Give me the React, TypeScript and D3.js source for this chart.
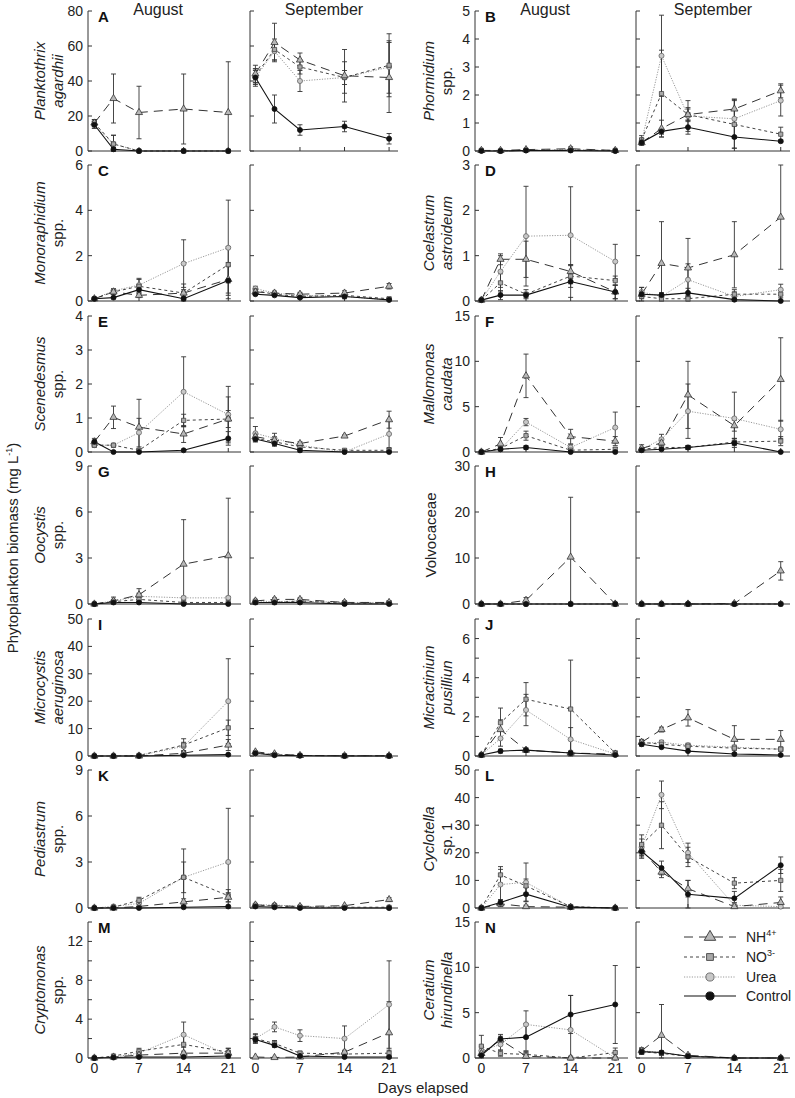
import * as d3 from "d3";

const days = [0, 3, 7, 14, 21];
const treatments = ["NH4", "NO3", "Urea", "Control"];
const months = ["August", "September"];
const dayLabels = [0, 7, 14, 21];

// every block: [August, September], each month rows = [NH4, NO3, Urea, Control] x days
const planktothrixMean = [
  [[16, 30, 22, 24, 22], [16, 4, 0, 0, 0], [15, 4, 0, 0, 0], [15, 1, 0, 0, 0]],
  [[44, 62, 52, 43, 42], [43, 58, 48, 42, 49], [42, 57, 40, 42, 48], [42, 24, 12, 14, 7]],
];
const planktothrixErr = [
  [[2, 14, 15, 20, 29], [2, 5, 0.5, 0.5, 0.5], [2, 5, 0.5, 0.5, 0.5], [2, 1, 0.5, 0.5, 0.5]],
  [[5, 11, 4, 15, 20], [4, 6, 4, 9, 18], [4, 5, 6, 4, 15], [5, 8, 3, 3, 3]],
];

const phormidiumMean = [
  [[0.02, 0.02, 0.05, 0.08, 0.02], [0.02, 0, 0.03, 0.03, 0.02], [0.02, 0, 0.02, 0.05, 0], [0, 0, 0.02, 0.02, 0]],
  [[0.3, 0.8, 1.3, 1.5, 2.15], [0.4, 2.05, 1.3, 0.95, 0.6], [0.35, 3.4, 1.25, 1.15, 1.8], [0.3, 0.7, 0.85, 0.5, 0.35]],
];
const phormidiumErr = [
  [[0.03, 0.03, 0.03, 0.07, 0.03], [0.03, 0.03, 0.03, 0.03, 0.03], [0.03, 0.03, 0.03, 0.03, 0.03], [0.03, 0.03, 0.03, 0.03, 0.03]],
  [[0.1, 0.3, 0.2, 0.35, 0.25], [0.15, 1.55, 0.25, 0.85, 0.25], [0.1, 1.45, 0.55, 0.7, 0.55], [0.05, 0.1, 0.25, 0.4, 0.05]],
];

const monoraphidiumMean = [
  [[0.1, 0.4, 0.25, 0.35, 0.95], [0.1, 0.4, 0.65, 0.35, 1.6], [0.1, 0.45, 0.7, 1.65, 2.35], [0.1, 0.15, 0.5, 0.1, 0.9]],
  [[0.4, 0.35, 0.3, 0.35, 0.65], [0.45, 0.3, 0.2, 0.25, 0.1], [0.55, 0.35, 0.25, 0.2, 0.05], [0.3, 0.25, 0.15, 0.2, 0.05]],
];
const monoraphidiumErr = [
  [[0.05, 0.1, 0.1, 0.15, 0.6], [0.05, 0.1, 0.3, 0.4, 0.8], [0.05, 0.1, 0.3, 1.05, 2.1], [0.05, 0.05, 0.2, 0.05, 0.8]],
  [[0.1, 0.08, 0.08, 0.1, 0.12], [0.1, 0.08, 0.08, 0.1, 0.05], [0.1, 0.08, 0.08, 0.1, 0.05], [0.05, 0.05, 0.05, 0.05, 0.03]],
];

const coelastrumMean = [
  [[0.02, 0.92, 0.92, 0.65, 0.2], [0.02, 0.4, 0.15, 0.55, 0.45], [0.02, 0.65, 1.43, 1.45, 0.87], [0.02, 0.13, 0.13, 0.43, 0.2]],
  [[0.15, 0.83, 0.73, 1.02, 1.85], [0.1, 0.05, 0.05, 0.15, 0.15], [0.2, 0.1, 0.47, 0.1, 0.25], [0.15, 0.13, 0.18, 0.03, 0]],
];
const coelastrumErr = [
  [[0.02, 0.12, 0.4, 0.15, 0.15], [0.02, 0.2, 0.1, 0.25, 0.1], [0.02, 0.35, 1.1, 1.07, 0.38], [0.02, 0.1, 0.05, 0.35, 0.15]],
  [[0.15, 0.92, 0.65, 0.73, 1.15], [0.05, 0.03, 0.05, 0.1, 0.08], [0.1, 0.08, 0.35, 0.1, 0.12], [0.05, 0.05, 0.1, 0.02, 0.01]],
];

const scenedesmusMean = [
  [[0.3, 1.02, 0.73, 0.53, 0.97], [0.2, 0.2, 0.05, 0.93, 0.97], [0.2, 0.2, 0.57, 1.77, 1.1], [0.3, 0, 0, 0.05, 0.4]],
  [[0.45, 0.35, 0.25, 0.47, 0.95], [0.4, 0.3, 0.15, 0.05, 0.05], [0.55, 0.4, 0.2, 0, 0.53], [0.38, 0.25, 0.05, 0, 0]],
];
const scenedesmusErr = [
  [[0.1, 0.33, 0.82, 0.25, 0.65], [0.05, 0.05, 0.05, 0.18, 0.25], [0.05, 0.05, 0.42, 1.03, 0.83], [0.05, 0.02, 0.02, 0.02, 0.2]],
  [[0.1, 0.1, 0.05, 0.03, 0.25], [0.1, 0.1, 0.05, 0.03, 0.05], [0.2, 0.15, 0.05, 0.02, 0.4], [0.08, 0.08, 0.05, 0.02, 0.02]],
];

const mallomonasMean = [
  [[0, 0.9, 8.4, 1.7, 1.2], [0, 0.4, 1.8, 0.2, 0.3], [0, 0.3, 3.3, 0.5, 2.7], [0, 0.3, 0.5, 0, 0]],
  [[0.4, 1.0, 6.3, 2.9, 8.0], [0.3, 0.5, 0.5, 1.1, 1.2], [0.3, 1.4, 4.5, 3.7, 2.5], [0.2, 0.3, 0.5, 1.0, 0]],
];
const mallomonasErr = [
  [[0.05, 0.7, 2.4, 0.8, 0.5], [0.05, 0.2, 0.5, 0.2, 0.2], [0.05, 0.2, 0.4, 0.3, 1.7], [0.05, 0.1, 0.2, 0.05, 0.05]],
  [[0.4, 0.5, 3.7, 0.6, 4.6], [0.2, 0.3, 0.2, 0.4, 0.5], [0.2, 0.55, 3.0, 2.9, 1.0], [0.1, 0.1, 0.2, 0.5, 0.1]],
];

const oocystisMean = [
  [[0, 0.2, 0.6, 2.6, 3.15], [0, 0.15, 0.3, 0.1, 0.1], [0, 0.2, 0.5, 0.4, 0.4], [0, 0.1, 0.1, 0, 0]],
  [[0.2, 0.3, 0.3, 0.1, 0.1], [0.1, 0.1, 0.2, 0.05, 0.05], [0.2, 0.15, 0.2, 0.1, 0.1], [0.1, 0.1, 0.1, 0, 0]],
];
const oocystisErr = [
  [[0.05, 0.25, 0.4, 2.9, 3.75], [0.05, 0.1, 0.15, 0.05, 0.05], [0.05, 0.1, 0.2, 0.1, 0.1], [0.05, 0.05, 0.05, 0.02, 0.02]],
  [[0.1, 0.1, 0.1, 0.1, 0.1], [0.1, 0.1, 0.1, 0.1, 0.1], [0.1, 0.1, 0.1, 0.1, 0.1], [0.1, 0.1, 0.1, 0.1, 0.1]],
];

const volvocaceaeMean = [
  [[0, 0, 0.8, 10.2, 0], [0, 0, 0, 0, 0], [0, 0, 0, 0, 0], [0, 0, 0, 0, 0]],
  [[0, 0, 0, 0.1, 7.2], [0, 0, 0, 0, 0], [0, 0, 0, 0, 0], [0, 0, 0, 0, 0]],
];
const volvocaceaeErr = [
  [[0.1, 0.2, 0.6, 13, 0.2], [0.1, 0.1, 0.1, 0.1, 0.1], [0.1, 0.1, 0.1, 0.1, 0.1], [0.1, 0.1, 0.1, 0.1, 0.1]],
  [[0.1, 0.1, 0.1, 0.1, 2.0], [0.1, 0.1, 0.1, 0.1, 0.1], [0.1, 0.1, 0.1, 0.1, 0.1], [0.1, 0.1, 0.1, 0.1, 0.1]],
];

const microcystisMean = [
  [[0, 0, 0, 1, 4], [0, 0, 0.2, 4, 10.3], [0, 0, 0.2, 3.5, 20], [0, 0, 0, 0.3, 0.5]],
  [[1.5, 0.8, 0.2, 0.1, 0.1], [1.2, 0.5, 0.2, 0.1, 0.1], [1.0, 0.5, 0.2, 0.1, 0.1], [1.0, 0.3, 0.1, 0, 0]],
];
const microcystisErr = [
  [[0.1, 0.1, 0.1, 0.5, 2], [0.1, 0.1, 0.1, 2.3, 2.8], [0.1, 0.1, 0.1, 1.5, 15.5], [0.1, 0.1, 0.1, 0.2, 0.3]],
  [[0.3, 0.3, 0.3, 0.3, 0.3], [0.3, 0.3, 0.3, 0.3, 0.3], [0.3, 0.3, 0.3, 0.3, 0.3], [0.3, 0.3, 0.3, 0.3, 0.3]],
];

const micractiniumMean = [
  [[0.05, 1.35, 0.3, 0.15, 0.1], [0.05, 1.7, 2.9, 2.4, 0.15], [0.05, 0.9, 2.35, 0.85, 0.1], [0.05, 0.25, 0.3, 0.15, 0.05]],
  [[0.7, 1.35, 1.95, 0.85, 0.85], [0.7, 0.6, 0.5, 0.4, 0.35], [0.65, 0.7, 0.55, 0.45, 0.35], [0.6, 0.45, 0.25, 0.1, 0.05]],
];
const micractiniumErr = [
  [[0.03, 0.5, 0.1, 0.1, 0.05], [0.03, 0.75, 0.85, 2.5, 0.1], [0.03, 0.4, 0.8, 0.6, 0.05], [0.03, 0.1, 0.1, 0.05, 0.03]],
  [[0.15, 0.12, 0.42, 0.7, 0.45], [0.1, 0.1, 0.1, 0.1, 0.1], [0.1, 0.1, 0.1, 0.1, 0.1], [0.1, 0.05, 0.05, 0.05, 0.03]],
];

const pediastrumMean = [
  [[0, 0, 0.1, 0.4, 0.7], [0, 0.05, 0.5, 2.0, 0.8], [0, 0.1, 0.3, 2.0, 3.0], [0, 0, 0, 0.05, 0.1]],
  [[0.2, 0.15, 0.1, 0.15, 0.55], [0.15, 0.15, 0.05, 0.05, 0.05], [0.2, 0.2, 0.1, 0.05, 0], [0.1, 0.05, 0, 0, 0]],
];
const pediastrumErr = [
  [[0.02, 0.02, 0.05, 0.2, 0.3], [0.02, 0.05, 0.2, 1.0, 0.4], [0.02, 0.05, 0.2, 1.85, 3.5], [0.02, 0.02, 0.02, 0.03, 0.05]],
  [[0.1, 0.05, 0.05, 0.05, 0.12], [0.05, 0.05, 0.05, 0.05, 0.05], [0.05, 0.05, 0.05, 0.05, 0.05], [0.05, 0.05, 0.05, 0.05, 0.05]],
];

const cyclotellaMean = [
  [[0, 1.5, 0.5, 0.3, 0], [0, 12, 8, 0.5, 0], [0, 8.5, 9.3, 0.3, 0], [0, 2, 5, 0.3, 0]],
  [[21, 13, 7, 0.5, 2], [23, 30, 18.5, 9, 10], [22, 41, 20, 1, 0.5], [20.5, 14.5, 5, 3.5, 15.5]],
];
const cyclotellaErr = [
  [[0.3, 1, 0.5, 0.3, 0.3], [0.3, 3, 2.5, 0.5, 0.3], [0.3, 5.5, 7, 0.5, 0.3], [0.3, 1, 2.5, 0.3, 0.3]],
  [[2.5, 2, 3, 0.5, 2], [3.5, 8.5, 3.5, 2, 4], [3, 5, 3.5, 1, 0.5], [2.5, 2.5, 5, 2.5, 3]],
];

const cryptomonasMean = [
  [[0, 0.1, 0.3, 0.5, 0.5], [0, 0.2, 0.7, 1.4, 0.6], [0, 0.1, 0.5, 2.4, 0.3], [0, 0.05, 0.1, 0.1, 0.2]],
  [[0.1, 0.05, 0.1, 0.6, 2.6], [2.0, 1.5, 0.5, 0.4, 0.5], [2.0, 3.2, 2.3, 2.0, 5.5], [1.9, 1.3, 0.2, 0.1, 0.1]],
];
const cryptomonasErr = [
  [[0.05, 0.05, 0.1, 0.2, 0.2], [0.05, 0.1, 0.3, 0.9, 0.4], [0.05, 0.05, 0.2, 1.3, 0.7], [0.05, 0.05, 0.05, 0.05, 0.1]],
  [[0.1, 0.05, 0.1, 0.2, 3.2], [0.5, 0.3, 0.2, 0.2, 0.3], [0.4, 0.5, 0.6, 1.3, 4.5], [0.2, 0.2, 0.1, 0.1, 0.1]],
];

const ceratiumMean = [
  [[0.5, 2.0, 0.2, 0, 0], [1.3, 0.5, 0.4, 0, 0.6], [0.8, 1.5, 3.7, 3.1, 0], [0.3, 2.1, 2.3, 4.8, 5.9]],
  [[0.8, 2.5, 0.3, 0, 0], [0.7, 0.5, 0.2, 0, 0], [0.8, 0.6, 0.2, 0, 0], [0.7, 0.6, 0.2, 0, 0]],
];
const ceratiumErr = [
  [[0.3, 0.4, 0.2, 0.05, 0.05], [1.2, 0.3, 0.3, 0.05, 0.5], [0.5, 0.6, 1.5, 3.8, 0.1], [0.3, 0.5, 1.5, 2.1, 4.3]],
  [[0.3, 3.4, 0.2, 0.05, 0.05], [0.3, 0.2, 0.1, 0.05, 0.05], [0.3, 0.2, 0.1, 0.05, 0.05], [0.3, 0.2, 0.1, 0.05, 0.05]],
];

type Panel = {
  letter: string;
  names: [string, boolean][];
  ymax: number;
  ticks: number[];
  labels: number[];
  mean: number[][][];
  err: number[][][];
};

const panels: Panel[] = [
  { letter: "A", names: [["Planktothrix", true], ["agardhii", true]], ymax: 80, ticks: [0, 20, 40, 60, 80], labels: [0, 20, 40, 60, 80], mean: planktothrixMean, err: planktothrixErr },
  { letter: "B", names: [["Phormidium", true], ["spp.", false]], ymax: 5, ticks: [0, 1, 2, 3, 4, 5], labels: [0, 1, 2, 3, 4, 5], mean: phormidiumMean, err: phormidiumErr },
  { letter: "C", names: [["Monoraphidium", true], ["spp.", false]], ymax: 6, ticks: [0, 2, 4, 6], labels: [0, 2, 4, 6], mean: monoraphidiumMean, err: monoraphidiumErr },
  { letter: "D", names: [["Coelastrum", true], ["astroideum", true]], ymax: 3, ticks: [0, 1, 2, 3], labels: [0, 1, 2, 3], mean: coelastrumMean, err: coelastrumErr },
  { letter: "E", names: [["Scenedesmus", true], ["spp.", false]], ymax: 4, ticks: [0, 1, 2, 3, 4], labels: [0, 1, 2, 3, 4], mean: scenedesmusMean, err: scenedesmusErr },
  { letter: "F", names: [["Mallomonas", true], ["caudata", true]], ymax: 15, ticks: [0, 5, 10, 15], labels: [0, 5, 10, 15], mean: mallomonasMean, err: mallomonasErr },
  { letter: "G", names: [["Oocystis", true], ["spp.", false]], ymax: 9, ticks: [0, 3, 6, 9], labels: [0, 3, 6, 9], mean: oocystisMean, err: oocystisErr },
  { letter: "H", names: [["Volvocaceae", false]], ymax: 30, ticks: [0, 10, 20, 30], labels: [0, 10, 20, 30], mean: volvocaceaeMean, err: volvocaceaeErr },
  { letter: "I", names: [["Microcystis", true], ["aeruginosa", true]], ymax: 50, ticks: [0, 10, 20, 30, 40, 50], labels: [0, 10, 20, 30, 40, 50], mean: microcystisMean, err: microcystisErr },
  { letter: "J", names: [["Micractinium", true], ["pusilliun", true]], ymax: 7, ticks: [0, 1, 2, 3, 4, 5, 6, 7], labels: [0, 2, 4, 6], mean: micractiniumMean, err: micractiniumErr },
  { letter: "K", names: [["Pediastrum", true], ["spp.", false]], ymax: 9, ticks: [0, 3, 6, 9], labels: [0, 3, 6, 9], mean: pediastrumMean, err: pediastrumErr },
  { letter: "L", names: [["Cyclotella", true], ["sp. 1", false]], ymax: 50, ticks: [0, 10, 20, 30, 40, 50], labels: [0, 10, 20, 30, 40, 50], mean: cyclotellaMean, err: cyclotellaErr },
  { letter: "M", names: [["Cryptomonas", true], ["spp.", false]], ymax: 14, ticks: [0, 2, 4, 6, 8, 10, 12, 14], labels: [0, 4, 8, 12], mean: cryptomonasMean, err: cryptomonasErr },
  { letter: "N", names: [["Ceratium", true], ["hirundinella", true]], ymax: 15, ticks: [0, 5, 10, 15], labels: [0, 5, 10, 15], mean: ceratiumMean, err: ceratiumErr },
];

const FONT = "'Liberation Sans', Arial, Helvetica, sans-serif";
const W = 795;
const H = 1098;
const rowTop = [11, 165, 316, 466, 619, 770, 922];
const rowBottom = [151, 301, 452, 604, 756, 908, 1058];
const cols = [
  { aug: [88, 241], sep: [250, 398], labelRight: 83, nameX: [40, 58] },
  { aug: [475, 628], sep: [636, 790], labelRight: 470, nameX: [429, 447] },
];
const augDomain = [-1, 23];
const sepDomain = [-0.85, 22.4];

const styles: Record<string, any> = {
  NH4: { line: "#333", dash: "9,6", width: 1, fill: "#b8b8b8", stroke: "#333", symbol: d3.symbolTriangle, size: 22 },
  NO3: { line: "#444", dash: "3,3", width: 1, fill: "#a8a8a8", stroke: "#444", symbol: d3.symbolSquare, size: 18 },
  Urea: { line: "#9a9a9a", dash: "1.2,1.4", width: 1, fill: "#c8c8c8", stroke: "#666", symbol: d3.symbolCircle, size: 20 },
  Control: { line: "#111", dash: null, width: 1.1, fill: "#111", stroke: "#111", symbol: d3.symbolCircle, size: 20 },
};
const drawOrder = [2, 1, 0, 3];

function SubPanel({ p, row, col, mi }: { p: Panel; row: number; col: number; mi: number }) {
  const c = cols[col];
  const range = mi === 0 ? c.aug : c.sep;
  const x = d3.scaleLinear().domain(mi === 0 ? augDomain : sepDomain).range(range);
  const y = d3.scaleLinear().domain([0, p.ymax]).range([rowBottom[row], rowTop[row]]);
  const clampV = (v: number) => Math.max(0, Math.min(p.ymax, v));
  const means = p.mean[mi];
  const errs = p.err[mi];
  const bottom = rowBottom[row];
  const top = rowTop[row];

  return (
    <g>
      {/* axes */}
      <line x1={range[0]} x2={range[0]} y1={top} y2={bottom} stroke="#333" strokeWidth={1} />
      <line x1={range[0]} x2={range[1]} y1={bottom} y2={bottom} stroke="#333" strokeWidth={1} />
      {p.ticks.map((t) => (
        <line key={"yt" + t} x1={range[0]} x2={range[0] + 4} y1={y(t)} y2={y(t)} stroke="#333" />
      ))}
      {dayLabels.slice(1).map((d) => (
        <line key={"xt" + d} x1={x(d)} x2={x(d)} y1={bottom} y2={bottom - 4} stroke="#333" />
      ))}
      {mi === 0 &&
        p.labels.map((t) => (
          <text key={"yl" + t} x={c.labelRight} y={y(t)} dy="0.36em" textAnchor="end" fontSize={14} fill="#222">
            {t}
          </text>
        ))}
      {row === 6 &&
        dayLabels.map((d) => (
          <text key={"xl" + d} x={x(d)} y={bottom + 15} textAnchor="middle" fontSize={14} fill="#222">
            {d}
          </text>
        ))}
      {/* error bars */}
      {drawOrder.map((si) =>
        days.map((d, di) => {
          const m = means[si][di];
          const e = errs[si][di];
          const y0 = y(clampV(m - e));
          const y1 = y(clampV(m + e));
          if (Math.abs(y0 - y1) < 2) return null;
          const xx = x(d);
          return (
            <g key={`e${si}-${di}`} stroke="#333" strokeWidth={0.9}>
              <line x1={xx} x2={xx} y1={y0} y2={y1} />
              <line x1={xx - 2.5} x2={xx + 2.5} y1={y0} y2={y0} />
              <line x1={xx - 2.5} x2={xx + 2.5} y1={y1} y2={y1} />
            </g>
          );
        })
      )}
      {/* lines */}
      {drawOrder.map((si) => {
        const s = styles[treatments[si]];
        const line = d3
          .line<number>()
          .x((_, i) => x(days[i]))
          .y((v) => y(clampV(v)));
        return (
          <path
            key={"l" + si}
            d={line(means[si]) || ""}
            fill="none"
            stroke={s.line}
            strokeWidth={s.width}
            strokeDasharray={s.dash || undefined}
          />
        );
      })}
      {/* markers */}
      {drawOrder.map((si) => {
        const s = styles[treatments[si]];
        const sym = d3.symbol(s.symbol, s.size)();
        return means[si].map((v, di) => (
          <path
            key={`m${si}-${di}`}
            d={sym || ""}
            transform={`translate(${x(days[di])},${y(clampV(v))})`}
            fill={s.fill}
            stroke={s.stroke}
            strokeWidth={0.8}
          />
        ));
      })}
    </g>
  );
}

function PanelBlock({ p, i }: { p: Panel; i: number }) {
  const row = Math.floor(i / 2);
  const col = i % 2;
  const c = cols[col];
  const midY = (rowTop[row] + rowBottom[row]) / 2;
  const nameX = p.names.length === 1 ? [c.nameX[0] + 2] : c.nameX;
  return (
    <g>
      {months.map((m, mi) => (
        <SubPanel key={m} p={p} row={row} col={col} mi={mi} />
      ))}
      <text x={c.aug[0] + 10} y={rowTop[row] + 11} fontSize={15} fontWeight="bold" fill="#111">
        {p.letter}
      </text>
      {p.names.map(([name, italic], k) => (
        <text
          key={name}
          transform={`translate(${nameX[k]},${midY}) rotate(-90)`}
          dy="0.35em"
          textAnchor="middle"
          fontSize={15}
          fontStyle={italic ? "italic" : "normal"}
          fill="#222"
        >
          {name}
        </text>
      ))}
      {row === 0 &&
        months.map((m, mi) => {
          const range = mi === 0 ? c.aug : c.sep;
          const x = d3.scaleLinear().domain(mi === 0 ? augDomain : sepDomain).range(range);
          const cx = mi === 0 ? x(10) : (range[0] + range[1]) / 2;
          return (
            <text key={"t" + m} x={cx} y={15} textAnchor="middle" fontSize={16} fill="#222">
              {m}
            </text>
          );
        })}
    </g>
  );
}

function Legend() {
  const rows = [
    { key: "NH4", label: "NH", sup: "4+", y: 937 },
    { key: "NO3", label: "NO", sup: "3-", y: 957 },
    { key: "Urea", label: "Urea", sup: "", y: 977 },
    { key: "Control", label: "Control", sup: "", y: 996 },
  ];
  return (
    <g>
      {rows.map((r) => {
        const s = styles[r.key];
        const sym = d3.symbol(s.symbol, s.size * 2.6)();
        return (
          <g key={r.key}>
            <line x1={684} x2={736} y1={r.y} y2={r.y} stroke={s.line} strokeWidth={s.width} strokeDasharray={s.dash || undefined} />
            <path d={sym || ""} transform={`translate(710,${r.y})`} fill={s.fill} stroke={s.stroke} strokeWidth={0.9} />
            <text x={746} y={r.y} dy="0.36em" fontSize={14} fill="#222">
              {r.label}
              {r.sup && (
                <tspan fontSize={9} dy={-6}>
                  {r.sup}
                </tspan>
              )}
            </text>
          </g>
        );
      })}
    </g>
  );
}

export default function App() {
  return (
    <svg
      width={W}
      height={H}
      viewBox={`0 0 ${W} ${H}`}
      style={{ position: "absolute", left: 0, top: 0, background: "#fff" }}
      fontFamily={FONT}
    >
      <rect width={W} height={H} fill="#fff" />
      {panels.map((p, i) => (
        <PanelBlock key={p.letter} p={p} i={i} />
      ))}
      <Legend />
      <text transform="translate(13,548) rotate(-90)" dy="0.35em" textAnchor="middle" fontSize={15} fill="#222">
        Phytoplankton biomass (mg L
        <tspan fontSize={9} dy={-6}>-1</tspan>
        <tspan dy={6}>)</tspan>
      </text>
      <text x={423} y={1093} textAnchor="middle" fontSize={15} fill="#222">
        Days elapsed
      </text>
    </svg>
  );
}
